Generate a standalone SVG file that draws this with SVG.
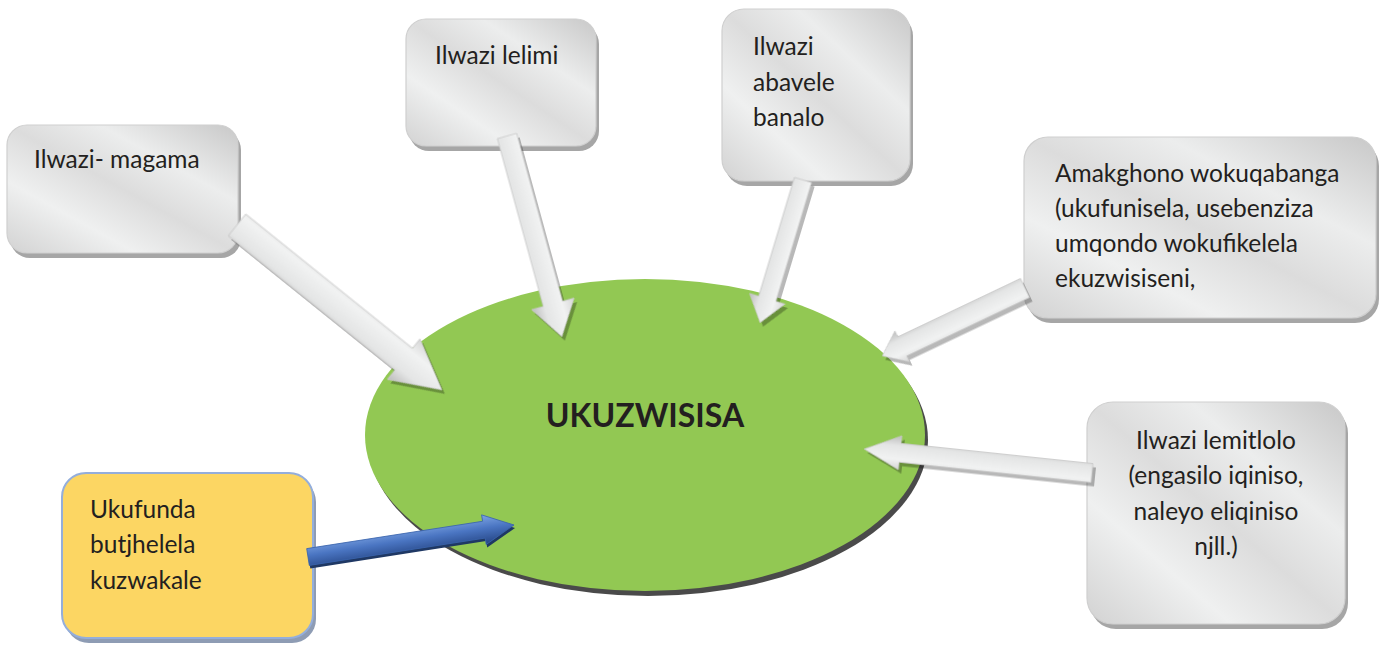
<svg xmlns="http://www.w3.org/2000/svg" xmlns:xlink="http://www.w3.org/1999/xlink" width="1384" height="646" viewBox="0 0 1384 646">
<defs>
<style>
.txt{font-family:Lato,"Liberation Sans",sans-serif;font-size:24.5px;fill:#231f20}
.title{font-family:Lato,"Liberation Sans",sans-serif;font-size:32px;font-weight:bold;fill:#231f20}
.box{fill:url(#gbox);stroke:#cfcfcf;stroke-width:1.2}
.bshadow{fill:#a6a6a6}
.ashadow{fill:#000;opacity:0.28}
.arrow{fill:url(#garrow);stroke:#c8c8c8;stroke-width:0.8}
</style>
<linearGradient id="gbox" x1="1" y1="0" x2="0" y2="1">
<stop offset="0" stop-color="#c8c8c8"/>
<stop offset="0.3" stop-color="#eceded"/>
<stop offset="0.5" stop-color="#dcdcdc"/>
<stop offset="0.72" stop-color="#eff0f0"/>
<stop offset="1" stop-color="#d2d2d2"/>
</linearGradient>
<linearGradient id="garrow" x1="0" y1="0" x2="0" y2="1">
<stop offset="0" stop-color="#d6d6d6"/>
<stop offset="0.3" stop-color="#f1f2f2"/>
<stop offset="0.7" stop-color="#e4e5e5"/>
<stop offset="1" stop-color="#bcbcbc"/>
</linearGradient>
<linearGradient id="gblue" x1="0" y1="0" x2="0" y2="1">
<stop offset="0" stop-color="#7ea5e4"/>
<stop offset="0.45" stop-color="#4a75c2"/>
<stop offset="1" stop-color="#244483"/>
</linearGradient>
<polygon id="a1" points="0,-14 214,-14 214,-26 263,0 214,26 214,14 0,14" transform="translate(237,225) rotate(38.83)"/>
<polygon id="a2" points="0,-10 174,-10 174,-22 208,0 174,22 174,10 0,10" transform="translate(507,136) rotate(74.7)"/>
<polygon id="a3" points="0,-9 124,-9 124,-18.5 149,0 124,18.5 124,9 0,9" transform="translate(803,180) rotate(106.74)"/>
<polygon id="a4" points="0,-10.5 136,-10.5 136,-17 158,0 136,17 136,10.5 0,10.5" transform="translate(1025,288) rotate(154.56)"/>
<polygon id="a5" points="0,-9.5 193,-9.5 193,-17 229,0 193,17 193,9.5 0,9.5" transform="translate(1092,473) rotate(186.01)"/>
<polygon id="a6" points="0,-8.5 178,-8.5 178,-15 208.5,0 178,15 178,8.5 0,8.5" transform="translate(308,557) rotate(-8.83)"/>
</defs>
<rect width="1384" height="646" fill="#ffffff"/>

<g id="center">
<ellipse cx="648" cy="440" rx="280" ry="156" fill="#4a4a4a"/>
<ellipse cx="645" cy="435" rx="280" ry="156" fill="#92c853"/>
<text class="title" x="645" y="427" text-anchor="middle">UKUZWISISA</text>
</g>

<g id="node-magama">
<rect class="bshadow" x="10" y="130" width="231" height="128" rx="20"/>
<rect class="box" x="7" y="125" width="231" height="128" rx="20"/>
<text class="txt" x="34" y="168">Ilwazi- magama</text>
</g>

<g id="node-lelimi">
<rect class="bshadow" x="409" y="24" width="190" height="127" rx="20"/>
<rect class="box" x="406" y="19" width="190" height="127" rx="20"/>
<text class="txt" x="435" y="64">Ilwazi lelimi</text>
</g>

<g id="node-abavele">
<rect class="bshadow" x="725" y="14" width="188" height="172" rx="22"/>
<rect class="box" x="722" y="9" width="188" height="172" rx="22"/>
<text class="txt" x="753" y="55">Ilwazi</text>
<text class="txt" x="753" y="91">abavele</text>
<text class="txt" x="753" y="126">banalo</text>
</g>

<g id="node-amakghono">
<rect class="bshadow" x="1027" y="142" width="352" height="181" rx="24"/>
<rect class="box" x="1024" y="137" width="352" height="181" rx="24"/>
<text class="txt" x="1055" y="182">Amakghono wokuqabanga</text>
<text class="txt" x="1055" y="217">(ukufunisela, usebenziza</text>
<text class="txt" x="1055" y="252">umqondo wokufikelela</text>
<text class="txt" x="1055" y="287">ekuzwisiseni,</text>
</g>

<g id="node-lemitlolo">
<rect class="bshadow" x="1090" y="407" width="258" height="222" rx="26"/>
<rect class="box" x="1087" y="402" width="258" height="222" rx="26"/>
<text class="txt" x="1216" y="449" text-anchor="middle">Ilwazi lemitlolo</text>
<text class="txt" x="1216" y="484" text-anchor="middle">(engasilo iqiniso,</text>
<text class="txt" x="1216" y="520" text-anchor="middle">naleyo eliqiniso</text>
<text class="txt" x="1216" y="555" text-anchor="middle">njll.)</text>
</g>

<g id="node-ukufunda">
<rect x="65" y="478" width="251" height="165" rx="24" fill="#8e9cb4"/>
<rect x="62" y="473" width="251" height="165" rx="24" fill="#fcd663" stroke="#94aedb" stroke-width="2"/>
<text class="txt" x="90" y="518">Ukufunda</text>
<text class="txt" x="90" y="553">butjhelela</text>
<text class="txt" x="90" y="589">kuzwakale</text>
</g>

<g id="connectors">
<g transform="translate(3,4)" class="ashadow"><use xlink:href="#a1"/><use xlink:href="#a2"/><use xlink:href="#a3"/><use xlink:href="#a4"/><use xlink:href="#a5"/></g>
<use xlink:href="#a1" class="arrow"/>
<use xlink:href="#a2" class="arrow"/>
<use xlink:href="#a3" class="arrow"/>
<use xlink:href="#a4" class="arrow"/>
<use xlink:href="#a5" class="arrow"/>
<g transform="translate(1,3)"><use xlink:href="#a6" fill="#1f3864"/></g>
<use xlink:href="#a6" fill="url(#gblue)" stroke="#3a64ad" stroke-width="0.8"/>
</g>
</svg>
